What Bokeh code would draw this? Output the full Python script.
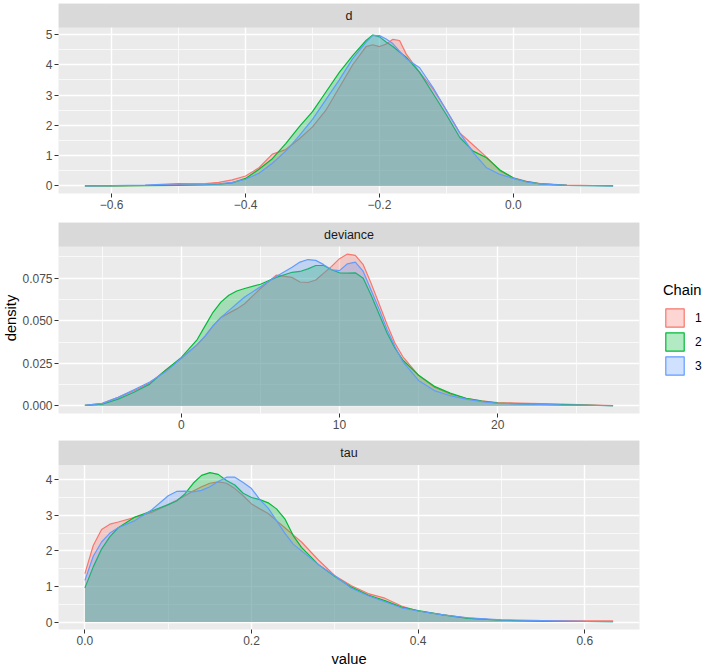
from bokeh.plotting import figure
from bokeh.layouts import column, row
from bokeh.models import (FixedTicker, Legend, LegendItem, Range1d, BoxAnnotation, Label)
from bokeh.embed import file_html
from bokeh.resources import INLINE

chains = ["1", "2", "3"]
colors = ["#F8766D", "#00BA38", "#619CFF"]

# ---- panel "d" ----
d_x = [-0.64, -0.60, -0.55, -0.50, -0.46, -0.44, -0.42, -0.40, -0.38, -0.36, -0.34, -0.32,
       -0.30, -0.28, -0.26, -0.24, -0.22, -0.21, -0.20, -0.19, -0.18, -0.17, -0.16, -0.14,
       -0.12, -0.10, -0.08, -0.06, -0.04, -0.02, 0.00, 0.02, 0.04, 0.08, 0.12, 0.149]
d_c1 = [0.0, 0.005, 0.02, 0.05, 0.08, 0.12, 0.20, 0.33, 0.60, 1.05, 1.20, 1.55,
        1.95, 2.50, 3.25, 4.00, 4.60, 4.66, 4.60, 4.68, 4.84, 4.80, 4.35, 3.75,
        3.20, 2.50, 1.75, 1.35, 0.95, 0.50, 0.27, 0.15, 0.08, 0.03, 0.015, 0.01]
d_c2 = [0.0, 0.005, 0.01, 0.02, 0.04, 0.06, 0.10, 0.25, 0.55, 0.90, 1.40, 1.95,
        2.45, 3.10, 3.75, 4.30, 4.80, 4.98, 4.92, 4.75, 4.60, 4.42, 4.25, 3.75,
        3.05, 2.35, 1.60, 1.15, 0.93, 0.53, 0.26, 0.14, 0.07, 0.02, 0.01, 0.0]
d_c3 = [0.0, 0.01, 0.03, 0.08, 0.06, 0.07, 0.12, 0.22, 0.42, 0.75, 1.15, 1.65,
        2.20, 2.85, 3.50, 4.20, 4.75, 4.97, 4.96, 4.85, 4.70, 4.45, 4.20, 3.90,
        3.25, 2.50, 1.75, 1.10, 0.60, 0.38, 0.25, 0.13, 0.07, 0.02, 0.01, 0.0]

# ---- panel "deviance" ----
dev_x = [-6.1, -5, -4, -3, -2, -1, 0, 1, 1.5, 2, 2.5, 3, 3.5, 4, 5, 6, 7, 7.5, 8, 8.5,
         9, 9.5, 10, 10.5, 11, 11.5, 12, 12.5, 13, 13.5, 14, 15, 16, 17, 18, 19, 20,
         22, 24, 27.3]
dev_c1 = [0.0003, 0.0015, 0.005, 0.009, 0.0135, 0.021, 0.028, 0.036, 0.041, 0.047,
          0.052, 0.0545, 0.057, 0.060, 0.069, 0.0768, 0.0755, 0.0728, 0.0725, 0.074,
          0.078, 0.082, 0.0865, 0.0892, 0.0885, 0.083, 0.072, 0.060, 0.048, 0.037,
          0.029, 0.018, 0.011, 0.007, 0.0045, 0.003, 0.002, 0.0015, 0.001, 0.0002]
dev_c2 = [0.0003, 0.001, 0.004, 0.008, 0.0128, 0.021, 0.0285, 0.039, 0.047, 0.055,
          0.061, 0.065, 0.0675, 0.069, 0.0715, 0.0755, 0.0785, 0.079, 0.0805, 0.0825,
          0.0825, 0.080, 0.0782, 0.078, 0.0782, 0.075, 0.065, 0.054, 0.043, 0.034,
          0.027, 0.018, 0.0115, 0.0075, 0.0045, 0.0028, 0.0017, 0.001, 0.0007, 0.0001]
dev_c3 = [0.0003, 0.0015, 0.005, 0.0095, 0.014, 0.020, 0.028, 0.036, 0.041, 0.047,
          0.052, 0.056, 0.060, 0.064, 0.070, 0.076, 0.0815, 0.0845, 0.086, 0.0855,
          0.083, 0.080, 0.0795, 0.0835, 0.0845, 0.079, 0.068, 0.057, 0.045, 0.035,
          0.026, 0.015, 0.009, 0.006, 0.004, 0.0025, 0.0015, 0.001, 0.0006, 0.0001]

# ---- panel "tau" ----
tau_x = [0.0, 0.01, 0.02, 0.03, 0.04, 0.06, 0.08, 0.10, 0.11, 0.12, 0.13, 0.14, 0.15,
         0.16, 0.17, 0.18, 0.19, 0.20, 0.21, 0.22, 0.23, 0.24, 0.25, 0.26, 0.28, 0.30,
         0.32, 0.34, 0.36, 0.38, 0.40, 0.43, 0.46, 0.50, 0.55, 0.60, 0.634]
tau_c1 = [1.36, 2.15, 2.60, 2.75, 2.81, 2.94, 3.08, 3.30, 3.42, 3.55, 3.68, 3.80, 3.90,
          3.94, 3.90, 3.75, 3.55, 3.32, 3.18, 3.05, 2.85, 2.65, 2.45, 2.25, 1.75, 1.30,
          1.02, 0.80, 0.67, 0.45, 0.31, 0.20, 0.11, 0.05, 0.04, 0.035, 0.03]
tau_c2 = [0.96, 1.55, 2.05, 2.40, 2.65, 2.95, 3.12, 3.30, 3.40, 3.60, 3.90, 4.12, 4.20,
          4.15, 3.98, 3.85, 3.62, 3.50, 3.44, 3.35, 3.18, 2.90, 2.43, 2.10, 1.62, 1.28,
          0.98, 0.76, 0.60, 0.42, 0.32, 0.20, 0.10, 0.05, 0.02, 0.015, 0.01]
tau_c3 = [1.17, 1.85, 2.25, 2.50, 2.65, 2.85, 3.15, 3.55, 3.67, 3.68, 3.66, 3.70, 3.80,
          3.95, 4.07, 4.07, 3.92, 3.75, 3.44, 3.20, 2.85, 2.50, 2.19, 2.00, 1.62, 1.30,
          0.95, 0.74, 0.57, 0.40, 0.31, 0.20, 0.12, 0.06, 0.04, 0.02, 0.01]

panels = [
    ("d", d_x, [d_c1, d_c2, d_c3],
     [-0.6, -0.4, -0.2, 0.0], [-0.7, -0.5, -0.3, -0.1, 0.1],
     {-0.6: "\u22120.6", -0.4: "\u22120.4", -0.2: "\u22120.2", 0.0: "0.0"},
     [0, 1, 2, 3, 4, 5], [0.5, 1.5, 2.5, 3.5, 4.5],
     {0: "0", 1: "1", 2: "2", 3: "3", 4: "4", 5: "5"}),
    ("deviance", dev_x, [dev_c1, dev_c2, dev_c3],
     [0, 10, 20], [-5, 5, 15, 25], {0: "0", 10: "10", 20: "20"},
     [0.0, 0.025, 0.05, 0.075], [0.0125, 0.0375, 0.0625, 0.0875],
     {0.0: "0.000", 0.025: "0.025", 0.05: "0.050", 0.075: "0.075"}),
    ("tau", tau_x, [tau_c1, tau_c2, tau_c3],
     [0.0, 0.2, 0.4, 0.6], [0.1, 0.3, 0.5], {0.0: "0.0", 0.2: "0.2", 0.4: "0.4", 0.6: "0.6"},
     [0, 1, 2, 3, 4], [0.5, 1.5, 2.5, 3.5], {0: "0", 1: "1", 2: "2", 3: "3", 4: "4"}),
]

FONT = "Liberation Sans"
heights = [222, 218, 229]
tops = [3, 0, 0]
bottoms = [29, 27, 37]
strip_px = [24, 24, 25]

figs = []
for i, (name, xs, ys, xmaj, xmin, xlab, ymaj, ymin, ylab) in enumerate(panels):
    xlo, xhi = min(xs), max(xs)
    ylo, yhi = 0.0, max(max(v) for v in ys)
    x0, x1 = xlo - 0.05 * (xhi - xlo), xhi + 0.05 * (xhi - xlo)
    y0, y1 = ylo - 0.05 * (yhi - ylo), yhi + 0.05 * (yhi - ylo)
    frame_h = heights[i] - tops[i] - bottoms[i]
    panel_h = frame_h - strip_px[i]
    y_end = y1 + (y1 - y0) * strip_px[i] / panel_h
    p = figure(width=646, height=heights[i], x_range=Range1d(x0, x1), y_range=Range1d(y0, y_end),
               output_backend="svg", toolbar_location=None,
               min_border_left=58, min_border_right=7,
               min_border_top=tops[i], min_border_bottom=bottoms[i])
    p.background_fill_color = "#EBEBEB"
    p.border_fill_color = "white"
    p.outline_line_color = None
    for ax, maj, mn, lab in ((p.xaxis[0], xmaj, xmin, xlab), (p.yaxis[0], ymaj, ymin, ylab)):
        ax.ticker = FixedTicker(ticks=maj, minor_ticks=mn)
        ax.major_label_overrides = lab
        ax.axis_line_color = None
        ax.major_tick_line_color = "#333333"
        ax.major_tick_out = 4
        ax.major_tick_in = 0
        ax.minor_tick_line_color = None
        ax.major_label_text_font = FONT
        ax.major_label_text_font_size = "12px"
        ax.major_label_text_color = "#4D4D4D"
        ax.major_label_standoff = 2
    for g in (p.xgrid[0], p.ygrid[0]):
        g.grid_line_color = "white"
        g.grid_line_width = 1.4
        g.minor_grid_line_color = "white"
        g.minor_grid_line_width = 0.7
    for vals, c in zip(ys, colors):
        p.varea(x=xs, y1=[0] * len(xs), y2=vals, fill_color=c, fill_alpha=0.3)
        p.line(x=xs, y=vals, line_color=c, line_width=1.2)
    # facet strip
    p.add_layout(BoxAnnotation(bottom=y1, fill_color="#D9D9D9", fill_alpha=1.0,
                               line_color=None))
    p.add_layout(Label(x=(x0 + x1) / 2, y=(y1 + y_end) / 2, text=name, text_align="center",
                       text_baseline="middle", text_font=FONT, text_font_size="12.5px",
                       text_color="#1A1A1A"))
    figs.append(p)

p1, p2, p3 = figs
p2.yaxis[0].axis_label = "density"
p2.yaxis[0].axis_label_text_font = FONT
p2.yaxis[0].axis_label_text_font_size = "14.7px"
p2.yaxis[0].axis_label_text_font_style = "normal"
p2.yaxis[0].axis_label_text_color = "black"
p2.yaxis[0].axis_label_standoff = 0
p3.xaxis[0].axis_label = "value"
p3.xaxis[0].axis_label_text_font = FONT
p3.xaxis[0].axis_label_text_font_size = "14.7px"
p3.xaxis[0].axis_label_text_font_style = "normal"
p3.xaxis[0].axis_label_text_color = "black"
p3.xaxis[0].axis_label_standoff = 3

# legend column
lf = figure(width=58, height=669, x_range=Range1d(0, 1), y_range=Range1d(0, 1),
            output_backend="svg", toolbar_location=None,
            x_axis_location=None, y_axis_location=None,
            min_border_left=0, min_border_right=0, min_border_top=0, min_border_bottom=0)
lf.outline_line_color = None
lf.background_fill_color = "white"
lf.grid.visible = False
nan = float("nan")
items = []
for ch, c in zip(chains, colors):
    r = lf.quad(left=[nan], right=[nan], top=[nan], bottom=[nan], fill_color=c, fill_alpha=0.3,
                line_color=c, line_width=1.2)
    items.append(LegendItem(label=ch, renderers=[r]))
leg = Legend(items=items, location=(17, 292), title="Chain",
             title_text_font=FONT, title_text_font_size="14.7px", title_text_font_style="normal",
             title_text_color="black", title_standoff=8,
             label_text_font=FONT, label_text_font_size="12px", label_text_color="black",
             glyph_width=23, glyph_height=23, label_standoff=9, spacing=1, padding=0, margin=0,
             background_fill_alpha=0, border_line_alpha=0)
lf.add_layout(leg)

layout = row(column(p1, p2, p3, spacing=0), lf, spacing=0)
open("out.html", "w").write(file_html(layout, INLINE))
